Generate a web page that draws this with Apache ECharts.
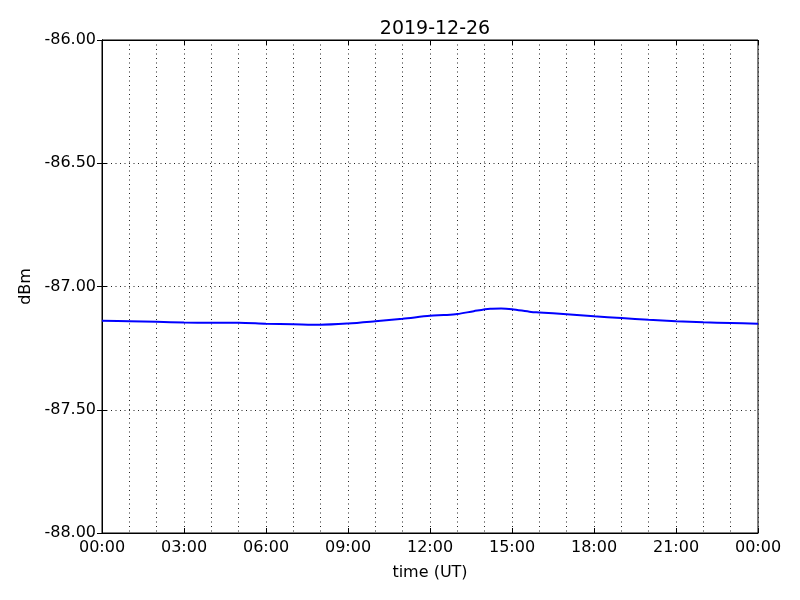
<!DOCTYPE html>
<html><head><meta charset="utf-8">
<script src="https://cdn.jsdelivr.net/npm/echarts@6/dist/echarts.min.js"></script>
<style>html,body{margin:0;padding:0;background:#fff}#c{width:800px;height:600px}</style>
</head><body><div id="c"></div>
<script>
const title = '2019-12-26';
const hours = [0, 1, 2, 3, 4, 5, 6, 7, 8, 9, 10, 11, 12, 12.5, 13, 13.6, 14.2, 14.6, 15, 15.7, 16, 17, 18, 19, 20, 21, 22, 23, 24];
const dbm = [-87.139, -87.141, -87.143, -87.146, -87.147, -87.147, -87.151, -87.153, -87.155, -87.150, -87.141, -87.131, -87.119, -87.116, -87.112, -87.100, -87.090, -87.089, -87.092, -87.103, -87.105, -87.113, -87.121, -87.128, -87.135, -87.141, -87.145, -87.148, -87.151];
const yTicks = [-88, -87.5, -87, -86.5, -86];
const xTickHours = [0, 3, 6, 9, 12, 15, 18, 21, 24];

const font = 'DejaVu Sans';
const dotted = {color: '#222', width: 1, type: [1, 3.5]};
function fmtH(v) { const h = Math.round(v) % 24; return (h < 10 ? '0' : '') + h + ':00'; }

const chart = echarts.init(document.getElementById('c'), null, {renderer: 'canvas'});
chart.setOption({
  animation: false,
  backgroundColor: '#fff',
  title: {text: title, left: 430, top: 15, textAlign: 'center',
    textStyle: {fontFamily: font, fontSize: 19, fontWeight: 'normal', color: '#000'}},
  grid: {left: 102, right: 42, top: 40, bottom: 67, show: true, borderColor: '#000', borderWidth: 1},
  xAxis: [{
    type: 'value', min: xTickHours[0], max: xTickHours[xTickHours.length - 1], interval: 3,
    name: 'time (UT)', nameLocation: 'middle', nameGap: 32,
    nameTextStyle: {fontFamily: font, fontSize: 16, color: '#000'},
    axisLine: {show: true, lineStyle: {color: '#000', width: 1}},
    axisTick: {show: true, inside: true, length: 5, lineStyle: {color: '#000'}},
    axisLabel: {formatter: fmtH, fontFamily: font, fontSize: 16, color: '#000', margin: 7},
    splitLine: {show: true, lineStyle: dotted},
    minorTick: {show: false, splitNumber: 3},
    minorSplitLine: {show: true, lineStyle: dotted}
  }, {
    type: 'value', position: 'top', min: 0, max: 24, interval: 3,
    axisLine: {show: true, lineStyle: {color: '#000'}},
    axisTick: {show: true, inside: true, length: 5, lineStyle: {color: '#000'}},
    axisLabel: {show: false}, splitLine: {show: false}
  }],
  yAxis: [{
    type: 'value', min: yTicks[0], max: yTicks[yTicks.length - 1], interval: 0.5,
    name: 'dBm', nameLocation: 'middle', nameGap: 68, nameRotate: 90,
    nameTextStyle: {fontFamily: font, fontSize: 16, color: '#000'},
    axisLine: {show: true, lineStyle: {color: '#000'}},
    axisTick: {show: true, inside: true, length: 5, lineStyle: {color: '#000'}},
    axisLabel: {formatter: v => v.toFixed(2), fontFamily: font, fontSize: 16, color: '#000', margin: 6},
    splitLine: {show: true, lineStyle: dotted}
  }, {
    type: 'value', position: 'right', min: -88, max: -86, interval: 0.5,
    axisLine: {show: true, lineStyle: {color: '#000'}},
    axisTick: {show: true, inside: true, length: 5, lineStyle: {color: '#000'}},
    axisLabel: {show: false}, splitLine: {show: false}
  }],
  series: [{
    type: 'line', xAxisIndex: 0, yAxisIndex: 0,
    data: hours.map((h, i) => [h, dbm[i]]),
    showSymbol: false, smooth: 0.3,
    lineStyle: {color: '#0000ff', width: 2}
  }]
});
</script></body></html>
